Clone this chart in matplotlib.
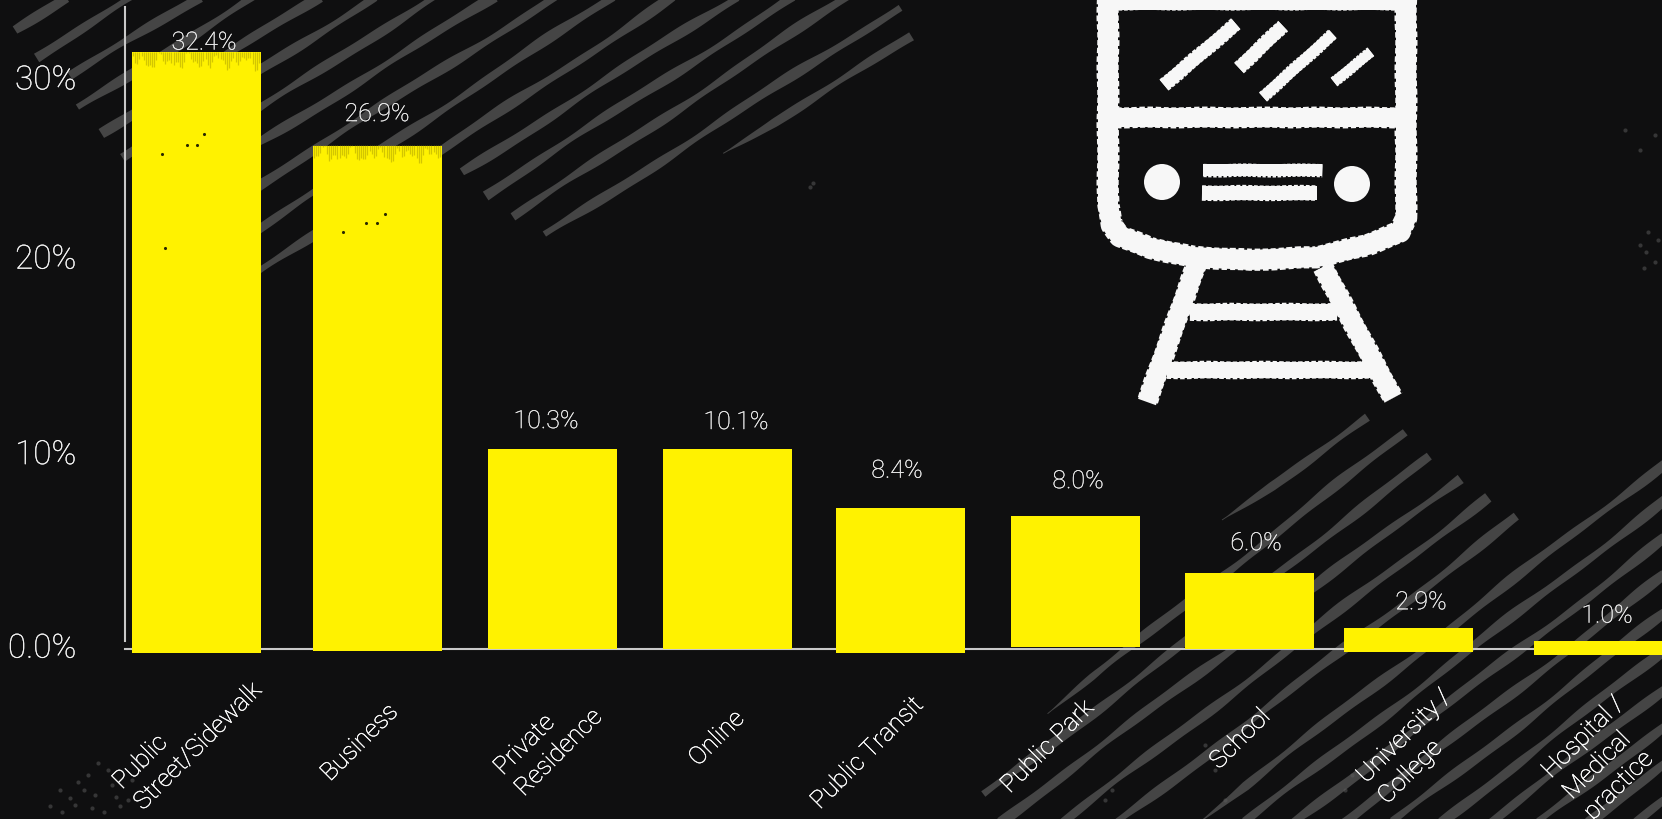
import numpy as np
import matplotlib
matplotlib.use('Agg')
import matplotlib.pyplot as plt
import matplotlib.patheffects as pe
from matplotlib.patches import Polygon, Circle

plt.rcParams['font.family'] = ['Roboto', 'DejaVu Sans']

# data
categories = ['Public\nStreet/Sidewalk', 'Business', 'Private\nResidence', 'Online', 'Public Transit',
              'Public Park', 'School', 'University /\nCollege', 'Hospital /\nMedical\npractice']
value_labels = ['32.4%', '26.9%', '10.3%', '10.1%', '8.4%', '8.0%', '6.0%', '2.9%', '1.0%']
# the bars are hand drawn, so top and foot are read off the axis, not from the labels
bar_tops = [31.3, 26.4, 10.5, 10.5, 7.4, 7.0, 4.0, 1.1, 0.4]
bar_feet = [-0.2, -0.1, 0.0, 0.0, -0.2, 0.1, 0.0, -0.15, -0.3]
label_heights = [31.8, 28.05, 11.95, 11.9, 9.35, 8.8, 5.55, 2.45, 1.75]
tick_heights = [0.2, 10.35, 20.6, 30.0]
tick_labels = ['0.0%', '10%', '20%', '30%']

# layout, pixels of the 1662x819 picture
W, H = 1662, 819
BASE_Y = 649
AXIS_X = 125
FIRST_X = 196
STEP_X = 175.0
PX_PER_PCT = 19.07
bar_nudge = [0, 6, 6, 6, 4, 4, 3, -13, 2]
label_nudge = [8, 6, 0, 15, 1, 7, 10, 0, 11]
# start of the last line of each tick label, from the bar slot on the axis
cat_offset = [(-57, 158), (-41, 133), (-26, 144), (-23, 118), (-76, 161),
              (-61, 145), (-27, 121), (-38, 152), (-7, 168)]

BG = '#0f0f10'
YELLOW = '#fff200'
HATCH = '#454545'
CHALK = '#f7f7f7'

# hatching strokes x0, y0, x1, y1
hatch_top = [(15, 30, 66, -3), (36, 57, 133, -3), (70, 76, 200, -3), (78, 108, 253, -3),
             (101, 133, 320, -3), (122, 157, 375, -3), (250, 115, 433, -3), (250, 148, 495, -3),
             (250, 190, 555, -3), (250, 235, 613, -3), (250, 278, 673, -3), (462, 172, 737, -3),
             (485, 195, 793, -3), (513, 217, 847, -3), (545, 235, 900, 7), (723, 153, 912, 37)]
hatch_bottom = [(1222, 520, 1368, 418), (1047, 713, 1405, 432), (984, 795, 1430, 457),
                (1000, 822, 1460, 478), (1063, 822, 1488, 497), (1118, 822, 1517, 517),
                (1198, 822, 1665, 463), (1245, 822, 1665, 500), (1294, 822, 1665, 538),
                (1344, 822, 1665, 575), (1393, 822, 1665, 613), (1441, 822, 1665, 650),
                (1491, 822, 1665, 688), (1539, 822, 1665, 725), (1588, 822, 1665, 763),
                (1636, 822, 1665, 800)]

specks = [(60, 790), (75, 805), (88, 775), (95, 795), (104, 812), (62, 812), (112, 785), (120, 806),
          (98, 763), (78, 782), (128, 800), (132, 780), (70, 798), (84, 790), (108, 770), (92, 808),
          (116, 797), (50, 806), (1640, 245), (1648, 232), (1655, 262), (1644, 268), (1658, 240),
          (1646, 252), (1640, 150), (1655, 135), (1625, 130), (810, 187), (813, 183), (1205, 745),
          (1215, 770), (1105, 800), (1112, 790), (1225, 800), (1345, 790), (1352, 775)]
# dark pits on the tall bars, x in px, y in px
pits = [(204, 134), (197, 145), (187, 145), (162, 154), (165, 248), (385, 214), (377, 223), (366, 223), (343, 232)]


def wobble(ax, x0, y0, x1, y1, width, phase, taper=False):
    # hand drawn looking stroke, width and centre swing a bit along the line
    n = 80
    t = np.linspace(0, 1, n)
    length = np.hypot(x1 - x0, y1 - y0)
    ux, uy = (x1 - x0) / length, (y1 - y0) / length
    nx, ny = -uy, ux
    s = t * length
    half = width / 2 * (1 + 0.22 * np.sin(s / 31 + phase) + 0.13 * np.sin(s / 13 + 2 * phase))
    if taper:
        half = half * np.clip(s / 60, 0.1, 1)
    mid = 1.2 * np.sin(s / 43 + phase)
    cx, cy = x0 + ux * s + nx * mid, y0 + uy * s + ny * mid
    top = np.column_stack([cx + nx * half, cy + ny * half])
    low = np.column_stack([cx - nx * half, cy - ny * half])
    ax.add_patch(Polygon(np.vstack([top, low[::-1]]), closed=True, fc=HATCH, ec='none'))


def chalk(ax, xs, ys, lw, cap='round'):
    # xs, ys in pixels, lw in pixels. thin second pass roughens the edge
    ax.plot(xs, ys, color=CHALK, lw=lw * 0.72, solid_capstyle=cap, solid_joinstyle='round')
    line, = ax.plot(xs, ys, color=CHALK, lw=lw * 0.8, solid_capstyle=cap, solid_joinstyle='round',
                    linestyle=(0, (0.25, 0.12)))
    line.set_sketch_params(0.4, 60, 2)


fig = plt.figure(figsize=(W / 100, H / 100), dpi=100, facecolor=BG)

# background layer in pixels
bg = fig.add_axes([0, 0, 1, 1], zorder=0)
bg.set_xlim(0, W)
bg.set_ylim(H, 0)
bg.axis('off')

for i, s in enumerate(hatch_top):
    wobble(bg, *s, 8.5, i * 1.7, taper=(i == len(hatch_top) - 1))
for i, s in enumerate(hatch_bottom):
    wobble(bg, *s, 8.5, i * 2.3, taper=(i == 0 or i == 1 or i == 6))

sx, sy = zip(*specks)
bg.scatter(sx, sy, s=9, color='#5e5e5e', alpha=0.5, lw=0)

# train
outline_x = [1108, 1108, 1112, 1120, 1150, 1193, 1250, 1317, 1367, 1400, 1406, 1406]
outline_y = [-8, 205, 225, 236, 248, 257, 260, 257, 245, 232, 218, -8]
chalk(bg, outline_x, outline_y, 20)
chalk(bg, [1108, 1406], [3, 3], 13)
chalk(bg, [1108, 1406], [117, 117], 19)
chalk(bg, [1164, 1236], [85, 24], 13, 'butt')
chalk(bg, [1239, 1283], [68, 26], 13, 'butt')
chalk(bg, [1263, 1333], [97, 34], 11, 'butt')
chalk(bg, [1334, 1371], [82, 52], 10, 'butt')
bg.add_patch(Circle((1162, 182), 18, fc=CHALK, ec='none'))
bg.add_patch(Circle((1352, 184), 18, fc=CHALK, ec='none'))
chalk(bg, [1203, 1322], [170, 170], 12, 'butt')
chalk(bg, [1202, 1317], [193, 193], 14, 'butt')
chalk(bg, [1197, 1147], [263, 402], 19, 'butt')
chalk(bg, [1323, 1393], [267, 398], 19, 'butt')
chalk(bg, [1190, 1337], [312, 312], 16, 'butt')
chalk(bg, [1167, 1373], [370, 370], 16, 'butt')

# chart layer
ax = fig.add_axes([AXIS_X / W, 1 - BASE_Y / H, 1 - AXIS_X / W, BASE_Y / H], zorder=1)
ax.patch.set_alpha(0)
ax.set_xlim((AXIS_X - FIRST_X) / STEP_X, (W - FIRST_X) / STEP_X)
ax.set_ylim(0, BASE_Y / PX_PER_PCT)

idx = np.arange(len(categories))
bar_x = idx + np.array(bar_nudge) / STEP_X
heights = np.array(bar_tops) - np.array(bar_feet)
bars = ax.bar(bar_x, heights, bottom=bar_feet, width=129 / STEP_X, color=YELLOW, zorder=3, clip_on=False)

# rough top edge on the two tall bars
for i in [0, 1]:
    xs = np.linspace(bar_x[i] - 0.36, bar_x[i] + 0.36, 60)
    drop = 0.5 + 0.35 * np.sin(xs * 97) * np.sin(xs * 23) + 0.2 * np.sin(xs * 41)
    ax.vlines(xs, bar_tops[i] - drop, bar_tops[i] + 0.02, color='#a89c00', lw=0.9, alpha=0.5, zorder=4)

px, py = zip(*pits)
ax.scatter((np.array(px) - FIRST_X) / STEP_X, (BASE_Y - np.array(py)) / PX_PER_PCT, s=5, color='#2a2800', lw=0, zorder=4)

firm = [pe.withStroke(linewidth=0.15, foreground='white')]
for i, txt in enumerate(value_labels):
    ax.text(i + label_nudge[i] / STEP_X, label_heights[i], txt, ha='center', va='center',
            fontsize=18, fontweight='light', color='#ececec', zorder=5, path_effects=firm)

for i, txt in enumerate(categories):
    ax.annotate(txt, xy=(i, 0), xytext=(cat_offset[i][0], -cat_offset[i][1]), textcoords='offset pixels',
                rotation=45, rotation_mode='anchor', ha='left', va='baseline', ma='left',
                fontsize=18, fontweight='light', color='#ffffff', linespacing=1.3,
                annotation_clip=False, zorder=5, path_effects=[pe.withStroke(linewidth=0.3, foreground='white')])

ax.set_yticks(tick_heights)
ax.set_yticklabels(tick_labels)
ax.set_xticks([])
ax.tick_params(axis='y', length=0, pad=35, labelsize=24, labelcolor='#f4f4f4')
for lab in ax.get_yticklabels():
    lab.set_fontweight('light')
    lab.set_path_effects(firm)

for side in ['top', 'right']:
    ax.spines[side].set_visible(False)
for side in ['left', 'bottom']:
    ax.spines[side].set_color('#c9c9c9')
    ax.spines[side].set_linewidth(1.5)
    ax.spines[side].set_zorder(2)
ax.spines['left'].set_bounds(0.42, 33.67)

fig.savefig('out.png', dpi=100, facecolor=BG)
